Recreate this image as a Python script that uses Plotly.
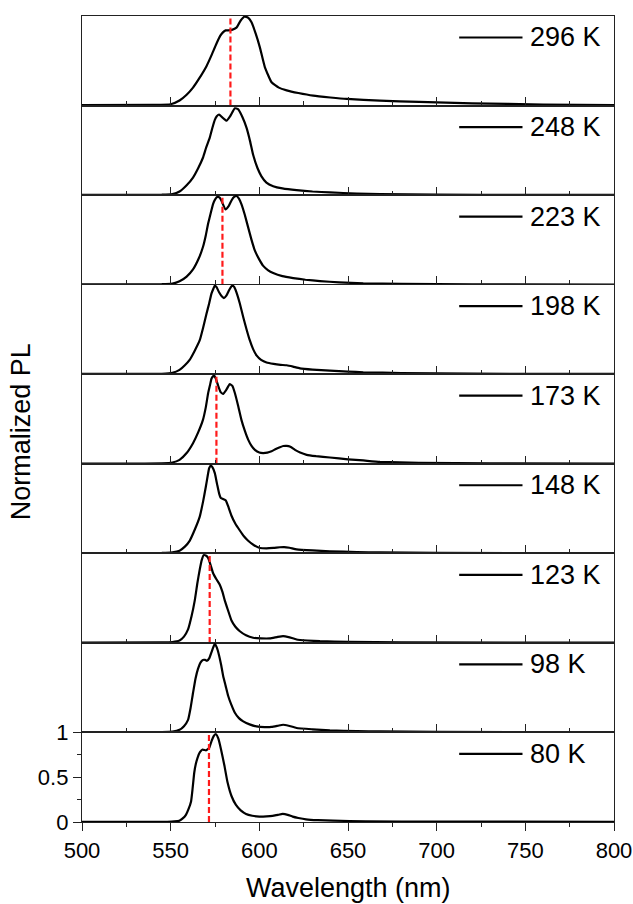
import plotly.graph_objects as go
from plotly.subplots import make_subplots

temps = [296, 248, 223, 198, 173, 148, 123, 98, 80]
labels = ["296 K", "248 K", "223 K", "198 K", "173 K", "148 K", "123 K", "98 K", "80 K"]

wl_296 = [500, 540, 550, 555, 559, 562.6, 566, 570.2, 573, 575.8, 578, 579.6, 581, 582.4, 584.5, 587.1, 589.5, 591.8, 593.8, 595.6, 598, 600.3, 603.1, 606.9, 611, 615.4, 622, 630.4, 640, 649.3, 668, 690, 720, 760, 800]
pl_296 = [0.005, 0.008, 0.015, 0.056, 0.12, 0.2, 0.3, 0.44, 0.56, 0.69, 0.78, 0.82, 0.84, 0.84, 0.845, 0.87, 0.95, 0.995, 0.98, 0.93, 0.8, 0.65, 0.43, 0.26, 0.2, 0.17, 0.14, 0.11, 0.09, 0.074, 0.056, 0.04, 0.025, 0.012, 0.005]

wl_248 = [500, 545, 551, 555, 559, 562.6, 565.5, 568.2, 570, 572, 573.5, 574.9, 576, 577.3, 579, 581.5, 583.5, 586.2, 588, 590.5, 592.8, 594.8, 596.5, 599, 601.2, 604, 607.8, 613, 621, 630, 639.8, 655, 668, 700, 750, 800]
pl_248 = [0.003, 0.005, 0.012, 0.04, 0.11, 0.196, 0.3, 0.417, 0.53, 0.64, 0.75, 0.84, 0.88, 0.9, 0.87, 0.83, 0.88, 0.97, 0.96, 0.87, 0.75, 0.6, 0.45, 0.3, 0.21, 0.14, 0.10, 0.075, 0.055, 0.04, 0.03, 0.018, 0.012, 0.006, 0.003, 0.002]

wl_223 = [500, 545, 551, 555, 559, 562.6, 566, 568.2, 569.8, 571.1, 572.6, 573.9, 575, 576.3, 577.5, 578.6, 580.9, 582.8, 584.3, 585.8, 587.1, 588.5, 589.9, 591.8, 593.7, 595.6, 597.5, 600, 602.2, 605, 607.8, 613, 619.1, 626, 634.2, 645, 658.6, 680, 720, 800]
pl_223 = [0.003, 0.005, 0.012, 0.037, 0.09, 0.17, 0.3, 0.42, 0.55, 0.68, 0.8, 0.9, 0.95, 0.98, 0.975, 0.94, 0.84, 0.88, 0.94, 0.98, 0.99, 0.96, 0.9, 0.78, 0.64, 0.5, 0.38, 0.28, 0.21, 0.16, 0.13, 0.095, 0.074, 0.055, 0.04, 0.026, 0.015, 0.009, 0.004, 0.002]

wl_198 = [500, 545, 551, 555, 558, 560.7, 563.5, 566.4, 568.3, 570.2, 571.7, 573, 574.2, 574.9, 575.8, 577.3, 578.8, 580, 581.5, 583, 584.2, 584.9, 585.8, 587.1, 589, 590.9, 592.8, 594.6, 596.5, 598.4, 601, 604.1, 608, 612, 615.4, 619, 622.9, 630, 639.8, 650, 658.6, 680, 720, 800]
pl_198 = [0.003, 0.005, 0.015, 0.048, 0.1, 0.16, 0.26, 0.38, 0.52, 0.675, 0.79, 0.9, 0.96, 0.99, 0.975, 0.915, 0.87, 0.85, 0.88, 0.94, 0.98, 0.99, 0.975, 0.915, 0.79, 0.64, 0.5, 0.38, 0.28, 0.21, 0.16, 0.13, 0.115, 0.105, 0.10, 0.085, 0.066, 0.052, 0.04, 0.03, 0.022, 0.013, 0.006, 0.003]

wl_173 = [500, 545, 551, 555, 559, 562.6, 565.5, 568.2, 569.8, 571.1, 572.2, 573, 574, 574.5, 575.5, 576.8, 578.2, 579.6, 581.5, 583.3, 584.8, 586.2, 588, 589.9, 591.8, 593.7, 595.6, 597.5, 600, 602.2, 604.5, 606.9, 609.3, 611.6, 613.5, 615.4, 617.5, 620.1, 623, 626.7, 632, 639.8, 650, 658.6, 668, 690, 730, 800]
pl_173 = [0.003, 0.005, 0.014, 0.044, 0.12, 0.23, 0.35, 0.49, 0.63, 0.785, 0.88, 0.95, 0.98, 0.985, 0.95, 0.87, 0.8, 0.78, 0.83, 0.89, 0.87, 0.79, 0.65, 0.49, 0.37, 0.27, 0.2, 0.155, 0.125, 0.12, 0.125, 0.14, 0.165, 0.185, 0.198, 0.2, 0.19, 0.155, 0.125, 0.1, 0.085, 0.07, 0.05, 0.037, 0.022, 0.01, 0.004, 0.002]

wl_148 = [500, 545, 551, 555, 558, 560.7, 563.5, 566.4, 568.3, 569.8, 571, 571.7, 572.6, 573.6, 574.9, 576.2, 577.3, 578.2, 579.2, 581.1, 582.7, 584.3, 586.5, 589, 591.3, 593.7, 597, 600.3, 604, 608, 611.6, 614, 617, 621, 630, 639.8, 655, 668, 700, 800]
pl_148 = [0.003, 0.005, 0.012, 0.03, 0.075, 0.14, 0.26, 0.41, 0.58, 0.74, 0.88, 0.95, 0.98, 0.96, 0.895, 0.77, 0.67, 0.62, 0.61, 0.59, 0.51, 0.42, 0.33, 0.255, 0.19, 0.14, 0.09, 0.06, 0.055, 0.06, 0.068, 0.07, 0.062, 0.045, 0.032, 0.023, 0.015, 0.01, 0.005, 0.002]

wl_123 = [500, 545, 551, 555, 557.5, 559.8, 561.8, 563.6, 565, 566.4, 567.6, 568.6, 569.8, 571.1, 572.5, 573.9, 575.8, 577.7, 579.2, 580.5, 582.4, 584.3, 586.5, 589, 592.5, 596.5, 601, 605.9, 610, 613.4, 616.5, 621, 627, 634.2, 650, 680, 800]
pl_123 = [0.003, 0.005, 0.01, 0.027, 0.07, 0.15, 0.3, 0.475, 0.66, 0.82, 0.93, 0.98, 0.975, 0.95, 0.87, 0.78, 0.71, 0.65, 0.57, 0.475, 0.36, 0.25, 0.18, 0.13, 0.085, 0.057, 0.05, 0.05, 0.065, 0.076, 0.065, 0.038, 0.027, 0.019, 0.012, 0.006, 0.002]

wl_98 = [500, 545, 551, 555, 557.5, 559.8, 561.2, 562.6, 564, 565.4, 566.8, 568.2, 569.4, 570.5, 571.8, 573, 574, 574.9, 576, 577.3, 578.5, 579.6, 581, 582.4, 584.2, 586.2, 588.5, 590.9, 594.5, 598.4, 603, 606.9, 610.5, 613.4, 616.5, 621, 630, 639.8, 655, 668, 700, 800]
pl_98 = [0.003, 0.005, 0.01, 0.03, 0.07, 0.14, 0.27, 0.44, 0.6, 0.71, 0.78, 0.81, 0.81, 0.80, 0.83, 0.895, 0.95, 0.99, 0.95, 0.86, 0.75, 0.63, 0.52, 0.41, 0.31, 0.22, 0.16, 0.124, 0.09, 0.068, 0.06, 0.062, 0.075, 0.086, 0.075, 0.05, 0.035, 0.023, 0.015, 0.011, 0.006, 0.003]

wl_80 = [500, 548, 552, 554.9, 556.8, 558.6, 560, 561.5, 562.4, 563.3, 564.2, 565.2, 566.5, 568, 569.9, 570.8, 571.8, 573, 574.3, 575.6, 576.9, 578.4, 580.3, 582.1, 584.3, 586.8, 589.5, 592.5, 596, 600, 604, 607.5, 610.5, 613.2, 616, 618.8, 622, 626.3, 633, 641.4, 660, 700, 800]
pl_80 = [0.002, 0.003, 0.006, 0.015, 0.04, 0.08, 0.14, 0.23, 0.38, 0.55, 0.65, 0.72, 0.78, 0.81, 0.80, 0.81, 0.83, 0.9, 0.96, 0.98, 0.93, 0.81, 0.63, 0.44, 0.29, 0.19, 0.13, 0.09, 0.07, 0.06, 0.062, 0.068, 0.08, 0.09, 0.08, 0.06, 0.045, 0.03, 0.02, 0.015, 0.008, 0.004, 0.002]

wavelengths = [wl_296, wl_248, wl_223, wl_198, wl_173, wl_148, wl_123, wl_98, wl_80]
intensities = [pl_296, pl_248, pl_223, pl_198, pl_173, pl_148, pl_123, pl_98, pl_80]

dash_temps = [296, 223, 173, 123, 80]
dash_wl = [583.7, 579.2, 575.8, 572.0, 571.6]

x_ticks = [500, 550, 600, 650, 700, 750, 800]
y_ticks = [0, 0.5, 1]
y_ticktext = ["0", "0.5", "1"]

FONT = "Liberation Sans, Arial, Helvetica, sans-serif"
n = len(temps)

fig = make_subplots(rows=n, cols=1, shared_xaxes=True, vertical_spacing=0)

for i in range(n):
    r = i + 1
    fig.add_trace(go.Scatter(x=wavelengths[i], y=intensities[i], mode="lines",
                             line=dict(color="black", width=2.2, shape="spline", smoothing=0.4),
                             showlegend=False, hoverinfo="skip"), row=r, col=1)
    if temps[i] in dash_temps:
        v = dash_wl[dash_temps.index(temps[i])]
        fig.add_trace(go.Scatter(x=[v, v], y=[0, 1], mode="lines",
                                 line=dict(color="#ff1a1a", width=2.2, dash="6px,3px"),
                                 showlegend=False, hoverinfo="skip"), row=r, col=1)
    sfx = "" if r == 1 else str(r)
    fig.add_shape(type="line", xref=f"x{sfx} domain", yref=f"y{sfx} domain",
                  x0=0.709, x1=0.828, y0=0.76, y1=0.76,
                  line=dict(color="black", width=2.2))
    fig.add_annotation(xref=f"x{sfx} domain", yref=f"y{sfx} domain", x=0.838, y=0.76,
                       text=labels[i], showarrow=False, xanchor="left", yanchor="middle",
                       font=dict(family=FONT, size=27, color="black"))

    last = (r == n)
    fig.update_xaxes(row=r, col=1, range=[500, 800], showline=True, mirror=True, automargin=False,
                     linecolor="#222", linewidth=1.4, showgrid=False, zeroline=False,
                     tickvals=x_ticks, ticks="outside" if last else "inside", ticklen=8, tickwidth=1.3,
                     tickcolor="#222",
                     minor=dict(dtick=25, tick0=500, ticks="outside" if last else "inside", ticklen=4,
                                tickwidth=1.3, tickcolor="#222", showgrid=False),
                     showticklabels=last,
                     tickfont=dict(family=FONT, size=22, color="black"))
    if last:
        fig.update_yaxes(row=r, col=1, range=[0, 1], showline=True, mirror=True, automargin=False,
                         linecolor="#222", linewidth=1.4, showgrid=False, zeroline=False,
                         tickvals=y_ticks, ticktext=y_ticktext, ticks="outside", ticklen=8,
                         tickwidth=1.3, tickcolor="#222",
                         minor=dict(tickvals=[0.25, 0.75], ticks="outside", ticklen=4,
                                    tickwidth=1.3, tickcolor="#222", showgrid=False),
                         tickfont=dict(family=FONT, size=22, color="black"))
    else:
        fig.update_yaxes(row=r, col=1, range=[0, 1], showline=True, mirror=True, automargin=False,
                         linecolor="#222", linewidth=1.4, showgrid=False, zeroline=False,
                         ticks="", showticklabels=False)

fig.add_annotation(xref="paper", yref="paper", x=0.5, y=-0.082, text="Wavelength (nm)",
                   showarrow=False, xanchor="center", yanchor="middle",
                   font=dict(family=FONT, size=27, color="black"))
fig.add_annotation(xref="paper", yref="paper", x=-0.114, y=0.484, text="Normalized PL",
                   showarrow=False, xanchor="center", yanchor="middle", textangle=-90,
                   font=dict(family=FONT, size=27, color="black"))

fig.update_layout(template="none", width=633, height=904, margin=dict(l=82, r=19, t=16, b=82),
                  paper_bgcolor="white", plot_bgcolor="white", showlegend=False)

fig.write_html("out.html")
